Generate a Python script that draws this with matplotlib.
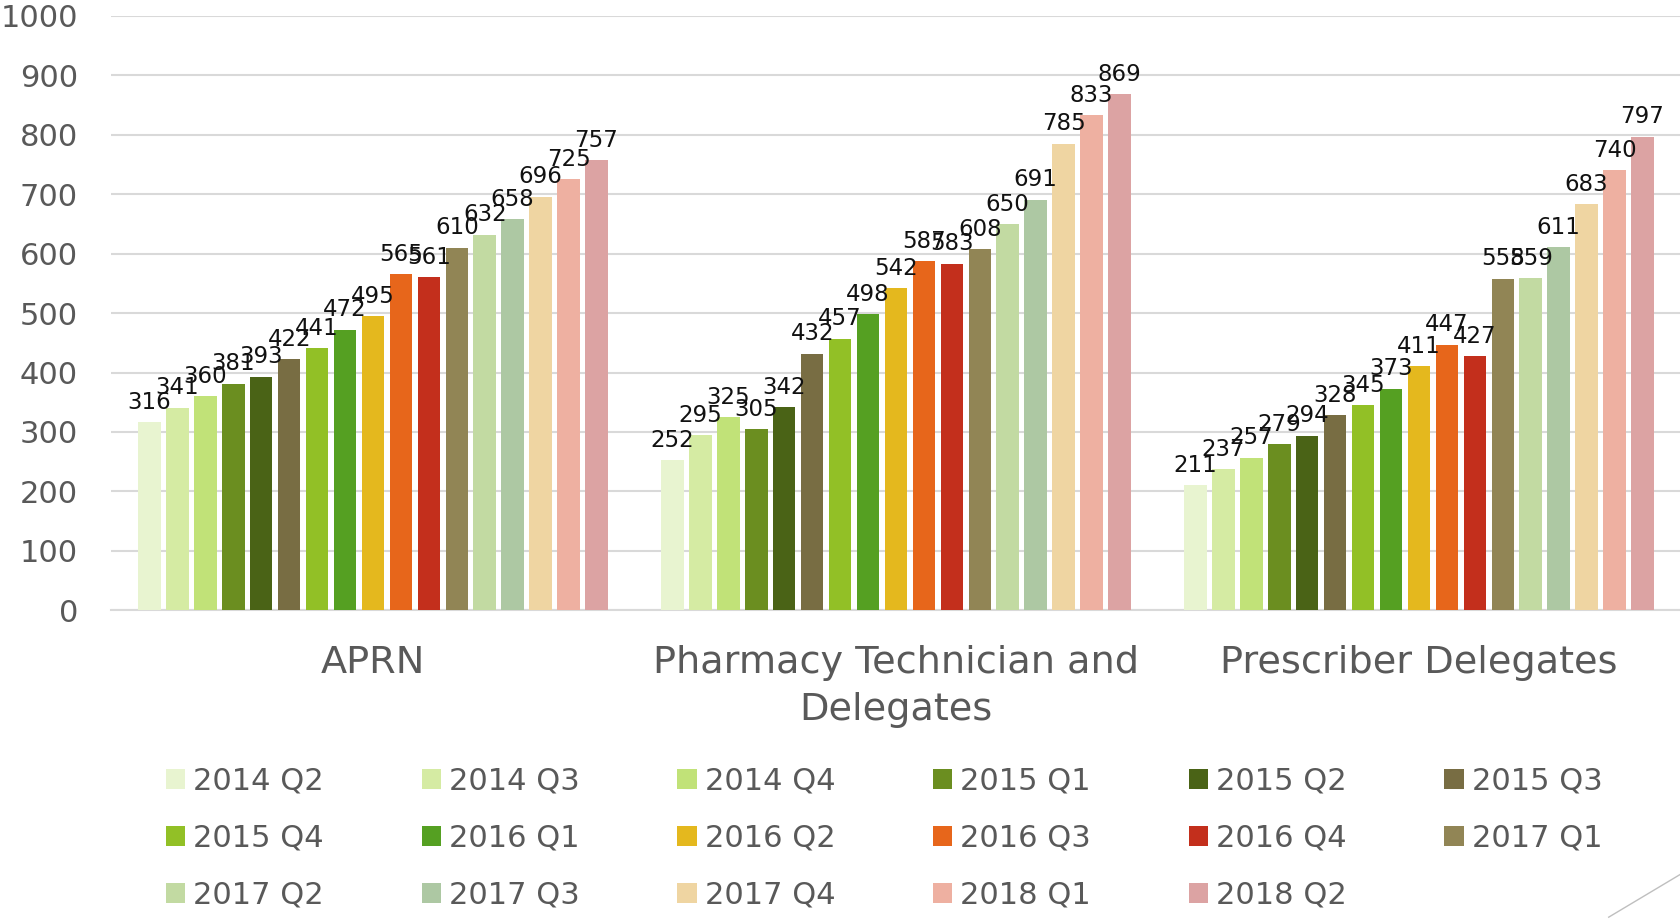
import numpy as np
import matplotlib.pyplot as plt
from matplotlib.lines import Line2D

# ---------------------------------------------------------------------
# data
# ---------------------------------------------------------------------

categories = ["APRN", "Pharmacy Technician and\nDelegates", "Prescriber Delegates"]

quarters = [
    "2014 Q2", "2014 Q3", "2014 Q4", "2015 Q1", "2015 Q2", "2015 Q3",
    "2015 Q4", "2016 Q1", "2016 Q2", "2016 Q3", "2016 Q4", "2017 Q1",
    "2017 Q2", "2017 Q3", "2017 Q4", "2018 Q1", "2018 Q2",
]

aprn = [316, 341, 360, 381, 393, 422, 441, 472, 495, 565, 561, 610, 632, 658, 696, 725, 757]
pharmacy = [252, 295, 325, 305, 342, 432, 457, 498, 542, 587, 583, 608, 650, 691, 785, 833, 869]
prescriber = [211, 237, 257, 279, 294, 328, 345, 373, 411, 447, 427, 558, 559, 611, 683, 740, 797]

colors = [
    "#E8F4D0", "#D5EBA3", "#C1E278", "#6B8E20", "#4A6316", "#786D43",
    "#92C026", "#55A022", "#E4B81E", "#E7661B", "#C32F1C", "#918555",
    "#C2DAA2", "#ADC8A3", "#EFD5A2", "#EEB0A1", "#DCA3A3",
]

values = np.array([aprn, pharmacy, prescriber]).T  # quarters x categories

# ---------------------------------------------------------------------
# plot
# ---------------------------------------------------------------------

fig = plt.figure(figsize=(16.81, 9.19), dpi=100)
ax = fig.add_axes([0.0663, 0.336, 0.9334, 0.6466])

x = np.arange(len(categories))
n = len(quarters)
group_w = 0.908
step = group_w / n
bar_w = 0.043

handles = []
for i, q in enumerate(quarters):
    pos = x - group_w / 2 + step * (i + 0.5)
    bars = ax.bar(pos, values[i], width=bar_w, color=colors[i], label=q, zorder=3)
    handles.append(bars)
    for b, v in zip(bars, values[i]):
        ax.annotate(
            str(v),
            (b.get_x() + b.get_width() / 2, v),
            xytext=(0, 6),
            textcoords="offset points",
            ha="center",
            va="bottom",
            fontsize=16.5,
            color="#111111",
            zorder=4,
        )

ax.set_xlim(-0.5, len(categories) - 0.5)
ax.set_ylim(0, 1000)
ax.set_yticks(range(0, 1001, 100))
ax.set_xticks(x)
ax.set_xticklabels(categories, fontsize=27.5, color="#595959", linespacing=1.38)

ax.tick_params(axis="y", length=0, pad=24, labelsize=22, labelcolor="#595959")
ax.tick_params(axis="x", length=0, pad=25)

ax.grid(axis="y", color="#D9D9D9", linewidth=1.5, zorder=0)
for side in ["top", "right", "left"]:
    ax.spines[side].set_visible(False)
ax.spines["bottom"].set_color("#D9D9D9")
ax.spines["bottom"].set_linewidth(1.5)

# legend, filled row by row like the original
ncol = 6
order = []
for c in range(ncol):
    for r in range(3):
        idx = r * ncol + c
        if idx < n:
            order.append(idx)

leg = fig.legend(
    [handles[i] for i in order],
    [quarters[i] for i in order],
    loc="center",
    bbox_to_anchor=(0.526, 0.088),
    ncol=ncol,
    frameon=False,
    fontsize=22,
    handlelength=0.63,
    handleheight=0.63,
    handletextpad=0.26,
    columnspacing=3.2,
    labelspacing=0.92,
    borderpad=0,
    labelcolor="#595959",
)

# slide decoration in the corner
fig.add_artist(Line2D([0.957, 1.0], [0.002, 0.049], transform=fig.transFigure,
                      color="#BFBFBF", linewidth=1))

plt.savefig("out.png", dpi=100)
